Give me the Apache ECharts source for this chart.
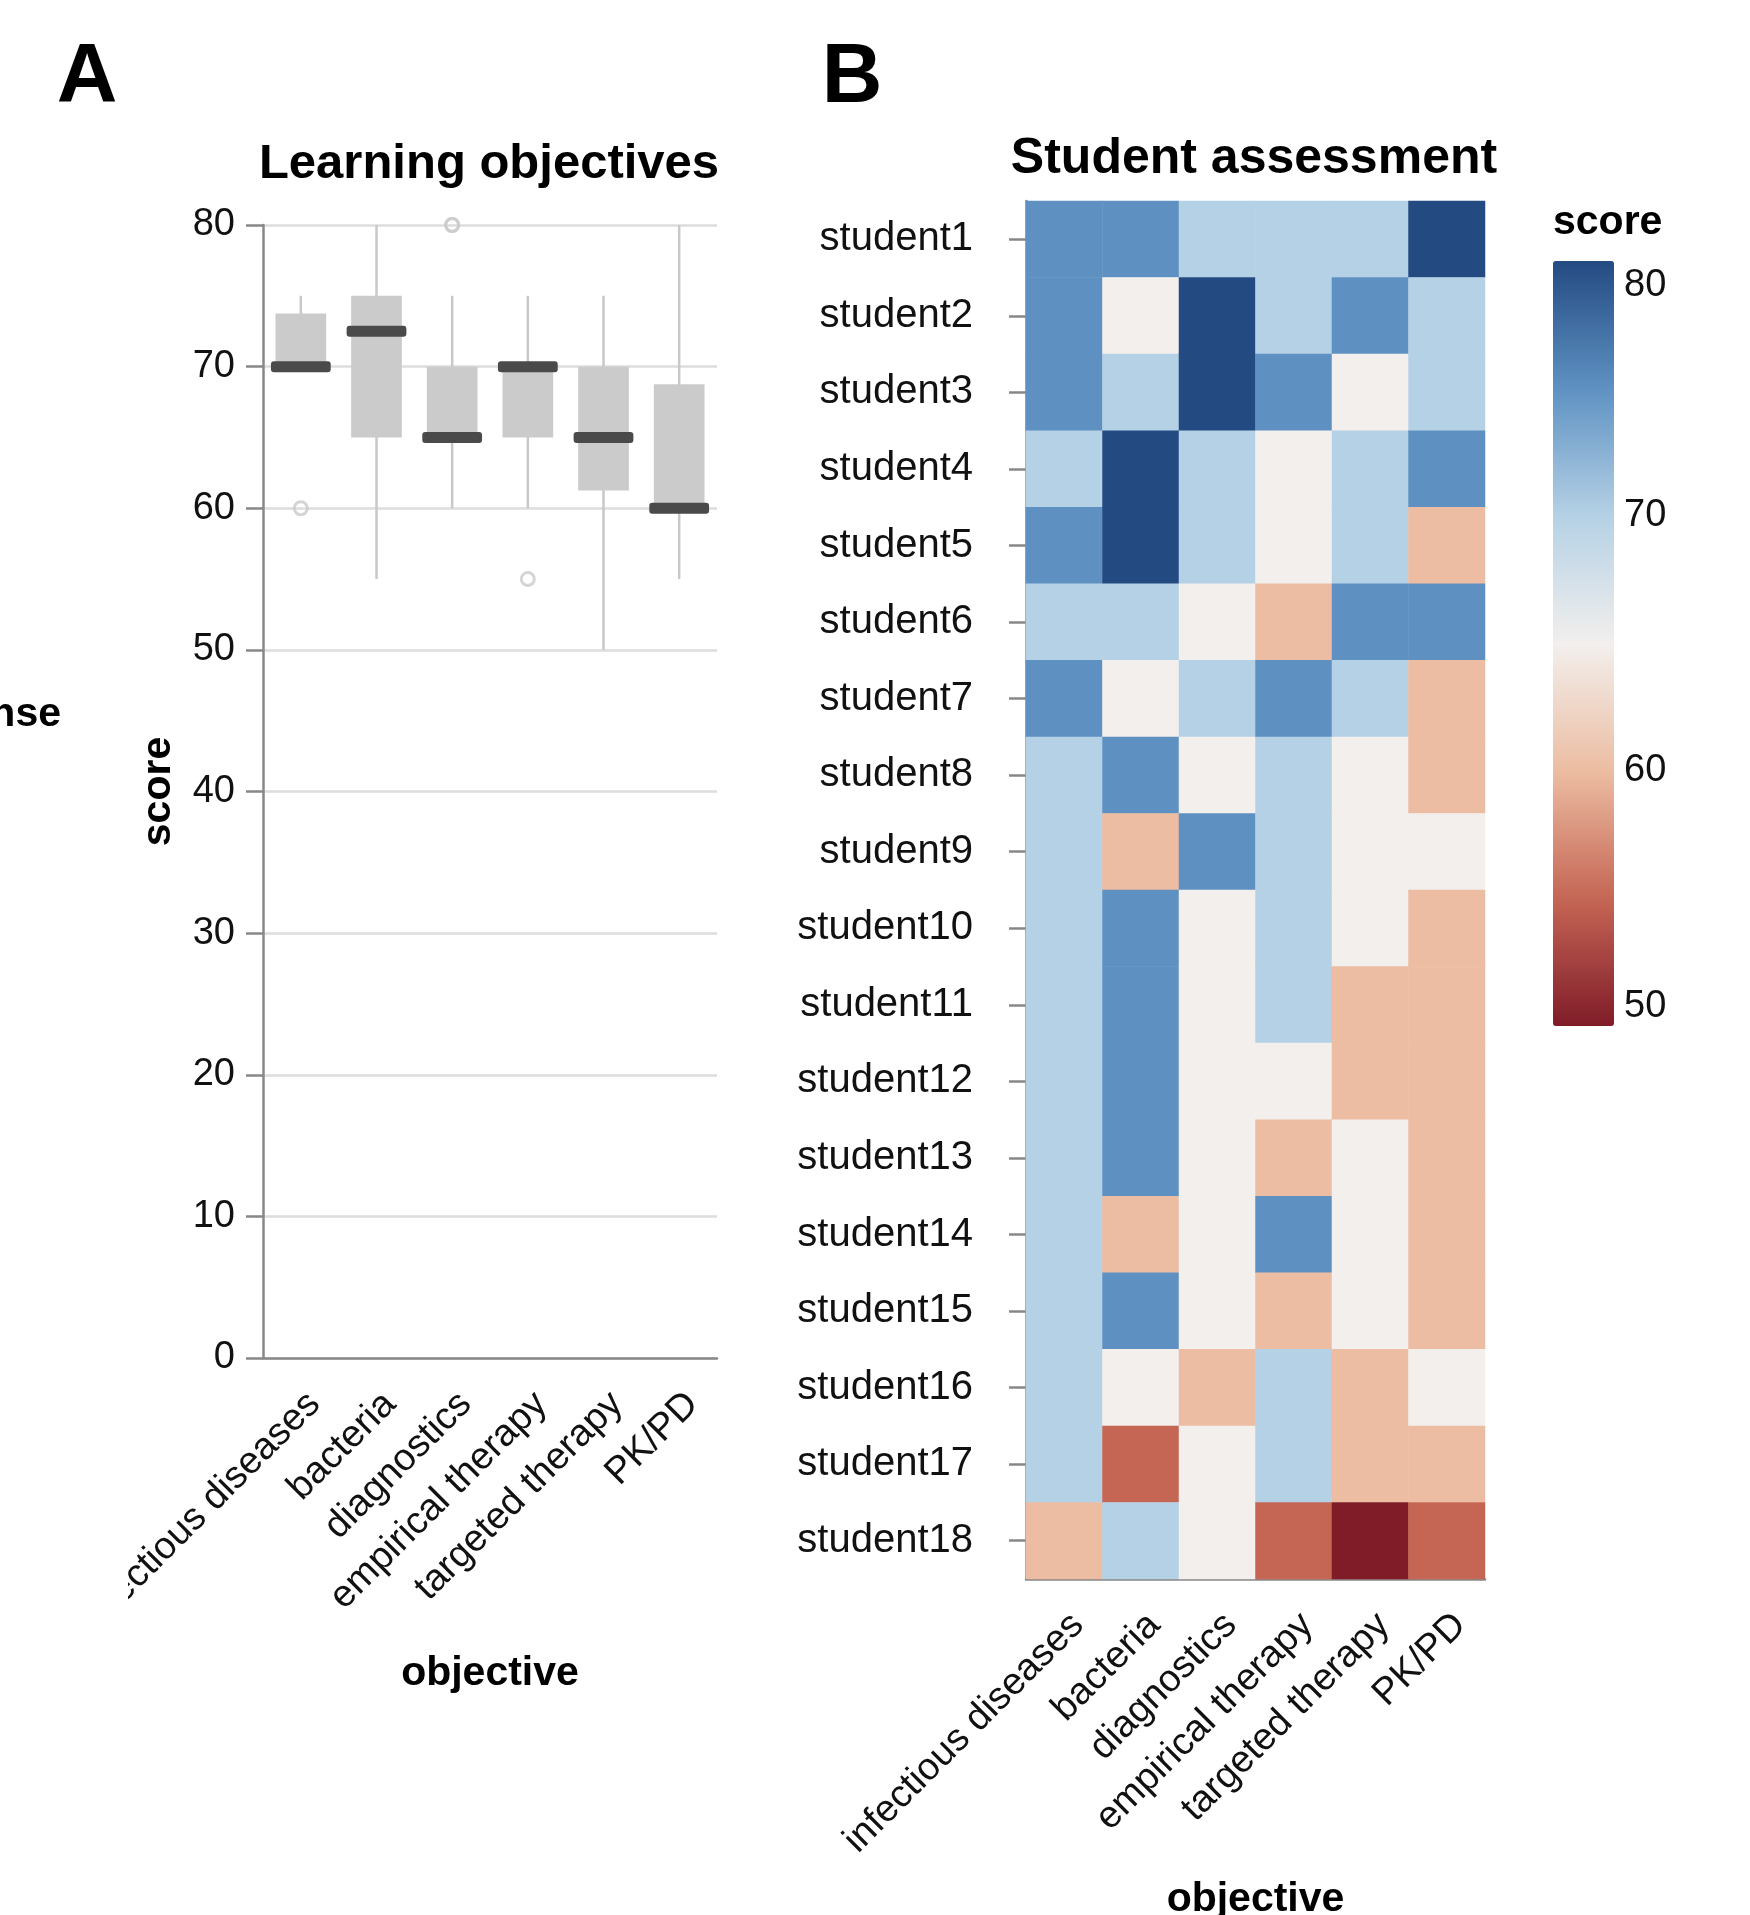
<!DOCTYPE html>
<html>
<head>
<meta charset="utf-8">
<script src="https://cdn.jsdelivr.net/npm/echarts@6/dist/echarts.min.js"></script>
<style>html,body{margin:0;padding:0;background:#fff;}#c{width:1750px;height:1915px;}</style>
</head>
<body>
<div id="c"></div>
<script>
// ---- data ----
const objectives = ['infectious diseases', 'bacteria', 'diagnostics', 'empirical therapy', 'targeted therapy', 'PK/PD'];
const students = ['student1','student2','student3','student4','student5','student6','student7','student8','student9',
  'student10','student11','student12','student13','student14','student15','student16','student17','student18'];
// scores per objective, one value per student (student1 .. student18)
const infectiousDiseases = [75,75,75,70,75,70,75,70,70,70,70,70,70,70,70,70,70,60];
const bacteria           = [75,65,70,80,80,70,65,75,60,75,75,75,75,60,75,65,55,70];
const diagnostics        = [70,80,80,70,70,65,70,65,75,65,65,65,65,65,65,60,65,65];
const empiricalTherapy   = [70,70,75,65,65,60,75,70,70,70,70,65,60,75,60,70,70,55];
const targetedTherapy    = [70,75,65,70,70,75,70,65,65,65,60,60,65,65,65,60,60,50];
const pkpd               = [80,70,70,75,60,75,60,60,65,60,60,60,60,60,60,65,60,55];
const scoreTicks = [0, 80, 10];      // box plot axis min, max, interval
const colorTicks = [50, 80, 10];     // colour scale min, max, interval
const colorStops = ['#7f1c28', '#c56655', '#ecbda2', '#f2efed', '#b5d1e5', '#5e91c2', '#244a82'];

const columns = [infectiousDiseases, bacteria, diagnostics, empiricalTherapy, targetedTherapy, pkpd];

// ---- derived: box plot statistics (Tukey, 1.5 IQR) ----
function quantile(s, p) {
  const h = (s.length - 1) * p, lo = Math.floor(h), hi = Math.ceil(h);
  return s[lo] + (s[hi] - s[lo]) * (h - lo);
}
const boxData = [], outlierData = [];
columns.forEach((col, i) => {
  const s = col.slice().sort((a, b) => a - b);
  const q1 = quantile(s, 0.25), med = quantile(s, 0.5), q3 = quantile(s, 0.75);
  const iqr = q3 - q1, lf = q1 - 1.5 * iqr, uf = q3 + 1.5 * iqr;
  const inside = s.filter(v => v >= lf && v <= uf);
  boxData.push([i, inside[0], q1, med, q3, inside[inside.length - 1]]);
  s.forEach(v => { if (v < lf || v > uf) outlierData.push([i, v]); });
});
const heatData = [];
columns.forEach((col, x) => col.forEach((v, y) => heatData.push([x, y, v])));

// ---- styles ----
const FONT = 'Liberation Sans, Arial, Helvetica, sans-serif';
const AX = '#888888';
const LBL = { fontFamily: FONT, fontSize: 38, color: '#111' };
const TTL = { fontFamily: FONT, fontSize: 41, fontWeight: 'bold', color: '#000' };

const chart = echarts.init(document.getElementById('c'), null, { renderer: 'canvas' });
chart.setOption({
  animation: false,
  backgroundColor: '#ffffff',
  title: [
    { text: 'Learning objectives', left: 489, top: 164, textAlign: 'center', textVerticalAlign: 'middle', padding: 0,
      textStyle: { fontFamily: FONT, fontSize: 49, fontWeight: 'bold', color: '#000', lineHeight: 49 } },
    { text: 'Student assessment', left: 1254, top: 159, textAlign: 'center', textVerticalAlign: 'middle', padding: 0,
      textStyle: { fontFamily: FONT, fontSize: 50, fontWeight: 'bold', color: '#000', lineHeight: 50 } }
  ],
  grid: [
    { left: 263, top: 225, width: 454, height: 1133, outerBoundsMode: 'none', containLabel: false },
    { left: 1026, top: 201, width: 459, height: 1378, outerBoundsMode: 'none', containLabel: false },
    { left: 1553, top: 261, width: 61, height: 765, outerBoundsMode: 'none', containLabel: false }
  ],
  xAxis: [
    { gridIndex: 0, type: 'category', data: objectives, boundaryGap: true,
      name: 'objective', nameLocation: 'middle', nameGap: 295, nameTextStyle: Object.assign({ lineHeight: 41 }, TTL),
      axisLine: { lineStyle: { color: AX, width: 2.5 } },
      axisTick: { alignWithLabel: true, length: 17, lineStyle: { color: AX, width: 2.5 } },
      axisLabel: Object.assign({ rotate: 45, margin: 27, interval: 0, verticalAlign: 'top' }, LBL),
      splitLine: { show: false } },
    { gridIndex: 1, type: 'category', data: objectives, boundaryGap: true,
      name: 'objective', nameLocation: 'middle', nameGap: 300, nameTextStyle: Object.assign({ lineHeight: 41 }, TTL),
      axisLine: { lineStyle: { color: AX, width: 2.5 } },
      axisTick: { alignWithLabel: true, length: 17, lineStyle: { color: AX, width: 2.5 } },
      axisLabel: Object.assign({ rotate: 45, margin: 27, interval: 0, verticalAlign: 'top' }, LBL),
      splitLine: { show: false } },
    { gridIndex: 2, type: 'value', min: 0, max: 1, show: false }
  ],
  yAxis: [
    { gridIndex: 0, type: 'value', min: scoreTicks[0], max: scoreTicks[1], interval: scoreTicks[2],
      name: 'score', nameLocation: 'middle', nameGap: 84, nameTextStyle: Object.assign({ lineHeight: 41 }, TTL),
      axisLine: { show: true, lineStyle: { color: AX, width: 2.5 } },
      axisTick: { show: true, length: 17, lineStyle: { color: AX, width: 2.5 } },
      axisLabel: Object.assign({ margin: 28, padding: [4, 0, 0, 0] }, LBL),
      splitLine: { show: true, lineStyle: { color: '#dddddd', width: 2.5 } } },
    { gridIndex: 1, type: 'category', data: students, inverse: true, boundaryGap: true,
      axisLine: { show: true, lineStyle: { color: AX, width: 2.5 } },
      axisTick: { show: true, alignWithLabel: true, length: 17, lineStyle: { color: AX, width: 2.5 } },
      axisLabel: Object.assign({}, LBL, { margin: 53, interval: 0, fontSize: 40, padding: [9, 0, 0, 0] }),
      splitLine: { show: false } },
    { gridIndex: 2, type: 'value', min: colorTicks[0], max: colorTicks[1], interval: colorTicks[2], position: 'right',
      axisLine: { show: false }, axisTick: { show: false }, splitLine: { show: false },
      axisLabel: Object.assign({ margin: 10, padding: [6, 0, 0, 0], verticalAlignMinLabel: 'bottom', verticalAlignMaxLabel: 'top' }, LBL) }
  ],
  visualMap: {
    type: 'continuous', min: colorTicks[0], max: colorTicks[1], seriesIndex: 2, calculable: false,
    orient: 'vertical', left: 1553, top: 261, itemWidth: 61, itemHeight: 765, padding: 0,
    text: null, showLabel: false, hoverLink: false,
    inRange: { color: colorStops }
  },
  series: [
    { type: 'custom', xAxisIndex: 0, yAxisIndex: 0, data: boxData, encode: { x: 0, y: [1, 2, 3, 4, 5] }, z: 3,
      renderItem: function (params, api) {
        const i = api.value(0);
        const pLo = api.coord([i, api.value(1)]);
        const yQ1 = api.coord([i, api.value(2)])[1];
        const yMed = api.coord([i, api.value(3)])[1];
        const yQ3 = api.coord([i, api.value(4)])[1];
        const yHi = api.coord([i, api.value(5)])[1];
        const band = api.size([1, 0])[0];
        const xc = pLo[0], bw = band * 0.67, mw = band * 0.79;
        return { type: 'group', children: [
          { type: 'line', shape: { x1: xc, y1: yHi, x2: xc, y2: pLo[1] }, style: { stroke: '#c8c8c8', lineWidth: 2.5 } },
          { type: 'rect', shape: { x: xc - bw / 2, y: yQ3, width: bw, height: Math.max(yQ1 - yQ3, 0) }, style: { fill: '#cbcbcb' } },
          { type: 'rect', shape: { x: xc - mw / 2, y: yMed - 5.5, width: mw, height: 11, r: 3 }, style: { fill: '#4a4a4a' } }
        ] };
      } },
    { type: 'scatter', xAxisIndex: 0, yAxisIndex: 0, data: outlierData, symbol: 'circle', symbolSize: 13, z: 4,
      itemStyle: { color: 'rgba(255,255,255,0)', borderColor: '#cacaca', borderWidth: 3 } },
    { type: 'heatmap', xAxisIndex: 1, yAxisIndex: 1, data: heatData,
      itemStyle: { borderWidth: 0 }, emphasis: { disabled: true } }
  ],
  graphic: [
    { type: 'text', x: 87, y: 79, z: 100, style: { text: 'A', font: 'bold 84px ' + FONT, fill: '#000', align: 'center', verticalAlign: 'middle' } },
    { type: 'text', x: 852, y: 79, z: 100, style: { text: 'B', font: 'bold 84px ' + FONT, fill: '#000', align: 'center', verticalAlign: 'middle' } },
    { type: 'text', x: 61, y: 715, z: 100, style: { text: 'nse', font: 'bold 41px ' + FONT, fill: '#000', align: 'right', verticalAlign: 'middle' } },
    { type: 'text', x: 1553, y: 223, z: 100, style: { text: 'score', font: 'bold 41px ' + FONT, fill: '#000', align: 'left', verticalAlign: 'middle' } },
    { type: 'rect', x: 0, y: 1366, z: 100, shape: { width: 128, height: 360 }, style: { fill: '#ffffff' } }
  ]
});
</script>
</body>
</html>
